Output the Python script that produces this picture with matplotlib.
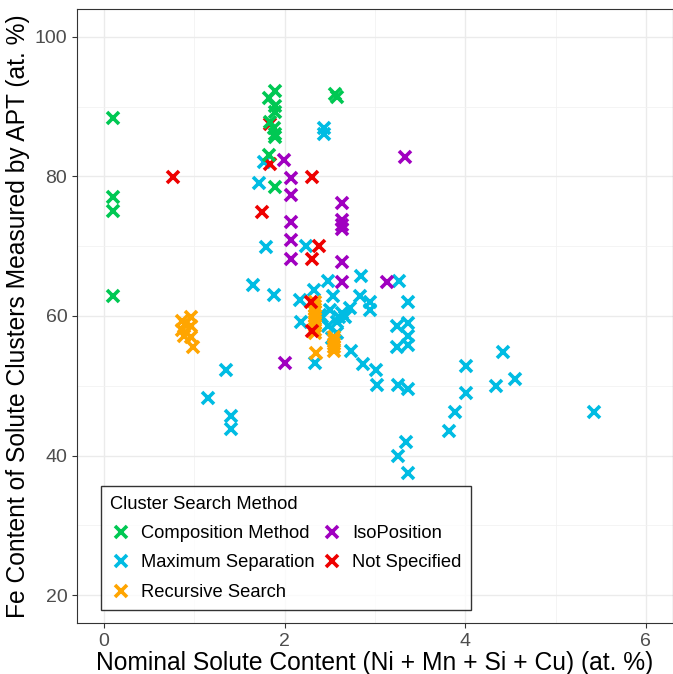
import numpy as np
import matplotlib
matplotlib.use("Agg")
import matplotlib.pyplot as plt
from matplotlib.ticker import MultipleLocator

plt.rcParams['font.family'] = ['Liberation Sans', 'DejaVu Sans']

# Composition Method
comp_x = [0.10, 0.10, 0.10, 0.10, 1.89, 1.83, 1.89, 1.89, 1.84, 1.88, 1.89, 1.89, 1.83, 1.89, 2.56, 2.58]
comp_y = [88.4, 77.0, 75.0, 62.9, 92.3, 91.3, 90.1, 89.2, 87.8, 87.0, 86.1, 85.6, 83.0, 78.5, 91.8, 91.4]

# Maximum Separation
maxsep_x = [1.77, 1.72, 1.79, 1.65, 2.43, 2.43, 2.24, 1.88, 2.17, 2.33, 2.48, 2.85, 2.18, 3.27,
            3.37, 2.53, 2.41, 2.50, 2.60, 2.48, 2.58, 2.72, 2.83, 2.94, 2.94, 2.67, 2.73, 2.87,
            3.01, 3.02, 3.24, 3.24, 3.36, 3.37, 3.37, 3.26, 3.37, 2.34, 1.35, 1.15, 1.40, 1.40,
            3.34, 3.26, 3.37, 4.01, 4.01, 3.89, 3.82, 4.42, 4.34, 4.55, 5.42, 2.63, 2.58, 2.52,
            2.39]
maxsep_y = [82.0, 79.1, 69.9, 64.4, 87.0, 86.1, 70.0, 63.0, 62.3, 63.7, 65.0, 65.8, 59.2, 65.0,
            62.0, 62.8, 59.9, 60.9, 59.9, 58.5, 57.5, 61.1, 62.9, 62.0, 60.9, 59.9, 55.0, 53.1,
            52.2, 50.1, 58.6, 55.6, 59.0, 57.2, 55.8, 50.1, 49.6, 53.2, 52.3, 48.2, 45.6, 43.8,
            42.0, 40.0, 37.5, 52.8, 49.0, 46.3, 43.5, 54.8, 50.0, 51.0, 46.2, 60.4, 59.2, 56.8,
            60.1]

# Recursive Search
rec_x = [0.86, 0.96, 0.86, 0.96, 0.88, 0.96, 0.98, 0.90,
         2.34, 2.34, 2.34, 2.34, 2.34, 2.34, 2.34, 2.34, 2.34, 2.34, 2.35,
         2.55, 2.55, 2.55, 2.55, 2.55]
rec_y = [59.3, 59.9, 58.0, 58.5, 57.2, 57.0, 55.6, 58.8,
         62.0, 61.5, 61.0, 60.5, 60.0, 59.5, 59.0, 58.5, 58.0, 57.5, 54.7,
         57.0, 56.5, 56.0, 55.5, 55.0]

# IsoPosition
iso_x = [1.99, 2.07, 2.07, 2.07, 2.07, 2.07, 3.33, 2.63, 2.63, 2.63, 2.63, 2.63, 2.63, 3.13, 2.00]
iso_y = [82.3, 79.8, 77.3, 73.5, 70.9, 68.2, 82.8, 76.2, 73.7, 73.0, 72.5, 67.8, 64.8, 64.8, 53.2]

# Not Specified
ns_x = [0.76, 1.84, 1.84, 1.75, 2.30, 2.38, 2.30, 2.29, 2.30]
ns_y = [79.9, 87.5, 81.8, 74.9, 79.9, 70.0, 68.1, 62.0, 57.8]

colors = {
    "Composition Method": "#00C853",
    "Maximum Separation": "#00BCE3",
    "Recursive Search": "#FFA500",
    "IsoPosition": "#A000C0",
    "Not Specified": "#EE0000",
}

fig = plt.figure(figsize=(6.73, 6.74), dpi=100)
ax = fig.add_axes([0.1144, 0.0757, 0.8856, 0.911])

mk = dict(marker='x', linestyle='none', markersize=9, markeredgewidth=2.6)
series = [
    ("Maximum Separation", maxsep_x, maxsep_y),
    ("Recursive Search", rec_x, rec_y),
    ("IsoPosition", iso_x, iso_y),
    ("Not Specified", ns_x, ns_y),
    ("Composition Method", comp_x, comp_y),
]
handles = {}
for name, xs, ys in series:
    h, = ax.plot(xs, ys, color=colors[name], label=name, **mk)
    handles[name] = h

ax.set_xlim(-0.3, 6.3)
ax.set_ylim(16, 104)
ax.xaxis.set_major_locator(MultipleLocator(2))
ax.xaxis.set_minor_locator(MultipleLocator(1))
ax.yaxis.set_major_locator(MultipleLocator(20))
ax.yaxis.set_minor_locator(MultipleLocator(10))
ax.grid(which='major', color='#EBEBEB', lw=1.0)
ax.grid(which='minor', color='#F2F2F2', lw=0.6)
ax.set_axisbelow(True)
ax.tick_params(which='minor', length=0)
ax.tick_params(which='major', length=3.5, width=0.8, color='#333333',
               labelsize=14, labelcolor='#4D4D4D')
for s in ax.spines.values():
    s.set_color('#333333')
    s.set_linewidth(0.8)

ax.set_xlabel("Nominal Solute Content (Ni + Mn + Si + Cu) (at. %)", fontsize=17.7, labelpad=1)
ax.set_ylabel("Fe Content of Solute Clusters Measured by APT (at. %)", fontsize=17.7, labelpad=3)

order = ["Composition Method", "Maximum Separation", "Recursive Search", "IsoPosition", "Not Specified"]
leg = ax.legend([handles[n] for n in order], order, title="Cluster Search Method",
                ncol=2, loc='lower left', bbox_to_anchor=(0.04, 0.021), borderaxespad=0,
                fontsize=13.2, title_fontsize=13.2, frameon=True, fancybox=False,
                edgecolor='black', borderpad=0.5, handletextpad=0.5, columnspacing=0.35,
                labelspacing=0.68, handlelength=1.2, alignment='left')
leg.get_frame().set_linewidth(1.0)

fig.savefig("out.png", dpi=100)
